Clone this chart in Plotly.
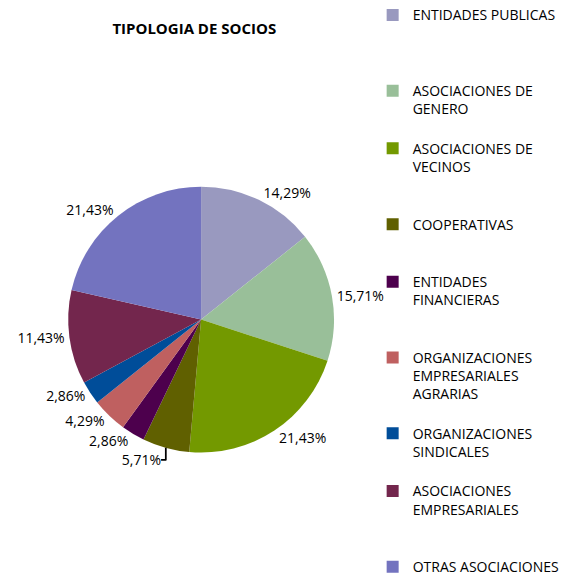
import plotly.graph_objects as go

# tipologia de socios
categorias = [
    "ENTIDADES PUBLICAS",
    "ASOCIACIONES DE<br>GENERO",
    "ASOCIACIONES DE<br>VECINOS",
    "COOPERATIVAS",
    "ENTIDADES<br>FINANCIERAS",
    "ORGANIZACIONES<br>EMPRESARIALES<br>AGRARIAS",
    "ORGANIZACIONES<br>SINDICALES",
    "ASOCIACIONES<br>EMPRESARIALES",
    "OTRAS ASOCIACIONES",
]
porcentajes = [14.29, 15.71, 21.43, 5.71, 2.86, 4.29, 2.86, 11.43, 21.43]
colores = [
    "#9999bf", "#99bf99", "#739900", "#606000", "#4d004d",
    "#bf6060", "#004d99", "#73264d", "#7373bf",
]

# legend rows each entry takes, so the entries come out evenly spaced
filas_leyenda = [4, 3, 4, 3, 4, 4, 3, 4, 1]


def pad_lines(name, n):
    lines = name.count("<br>") + 1
    return name + "<br> " * (n - lines)


nombres = [pad_lines(c, n) for c, n in zip(categorias, filas_leyenda)]

fig = go.Figure(
    go.Pie(
        labels=nombres,
        values=porcentajes,
        sort=False,
        direction="clockwise",
        rotation=0,
        marker=dict(colors=colores, line=dict(width=0)),
        texttemplate="%{value:.2f}%",
        textposition="outside",
        textfont=dict(family="Open Sans", size=14, color="#000000"),
        domain=dict(x=[0.106, 0.574], y=[0.228, 0.690]),
        hoverinfo="label+percent",
    )
)

fig.update_layout(
    width=568,
    height=576,
    margin=dict(l=0, r=0, t=0, b=0, autoexpand=False),
    paper_bgcolor="white",
    plot_bgcolor="white",
    separators=",.",
    font=dict(family="Open Sans", color="#000000"),
    title=dict(
        text="<b>TIPOLOGIA DE SOCIOS</b>",
        font=dict(family="Open Sans", size=15, color="#000000"),
        x=0.328,
        xanchor="center",
        xref="paper",
        yref="container",
        y=0.964,
        yanchor="middle",
    ),
    legend=dict(
        x=0.642,
        xanchor="left",
        y=1.015,
        yanchor="top",
        valign="top",
        maxheight=700,
        font=dict(family="Open Sans", size=14, color="#000000"),
        bgcolor="rgba(0,0,0,0)",
        itemwidth=30,
    ),
)

fig.write_html("out.html")
